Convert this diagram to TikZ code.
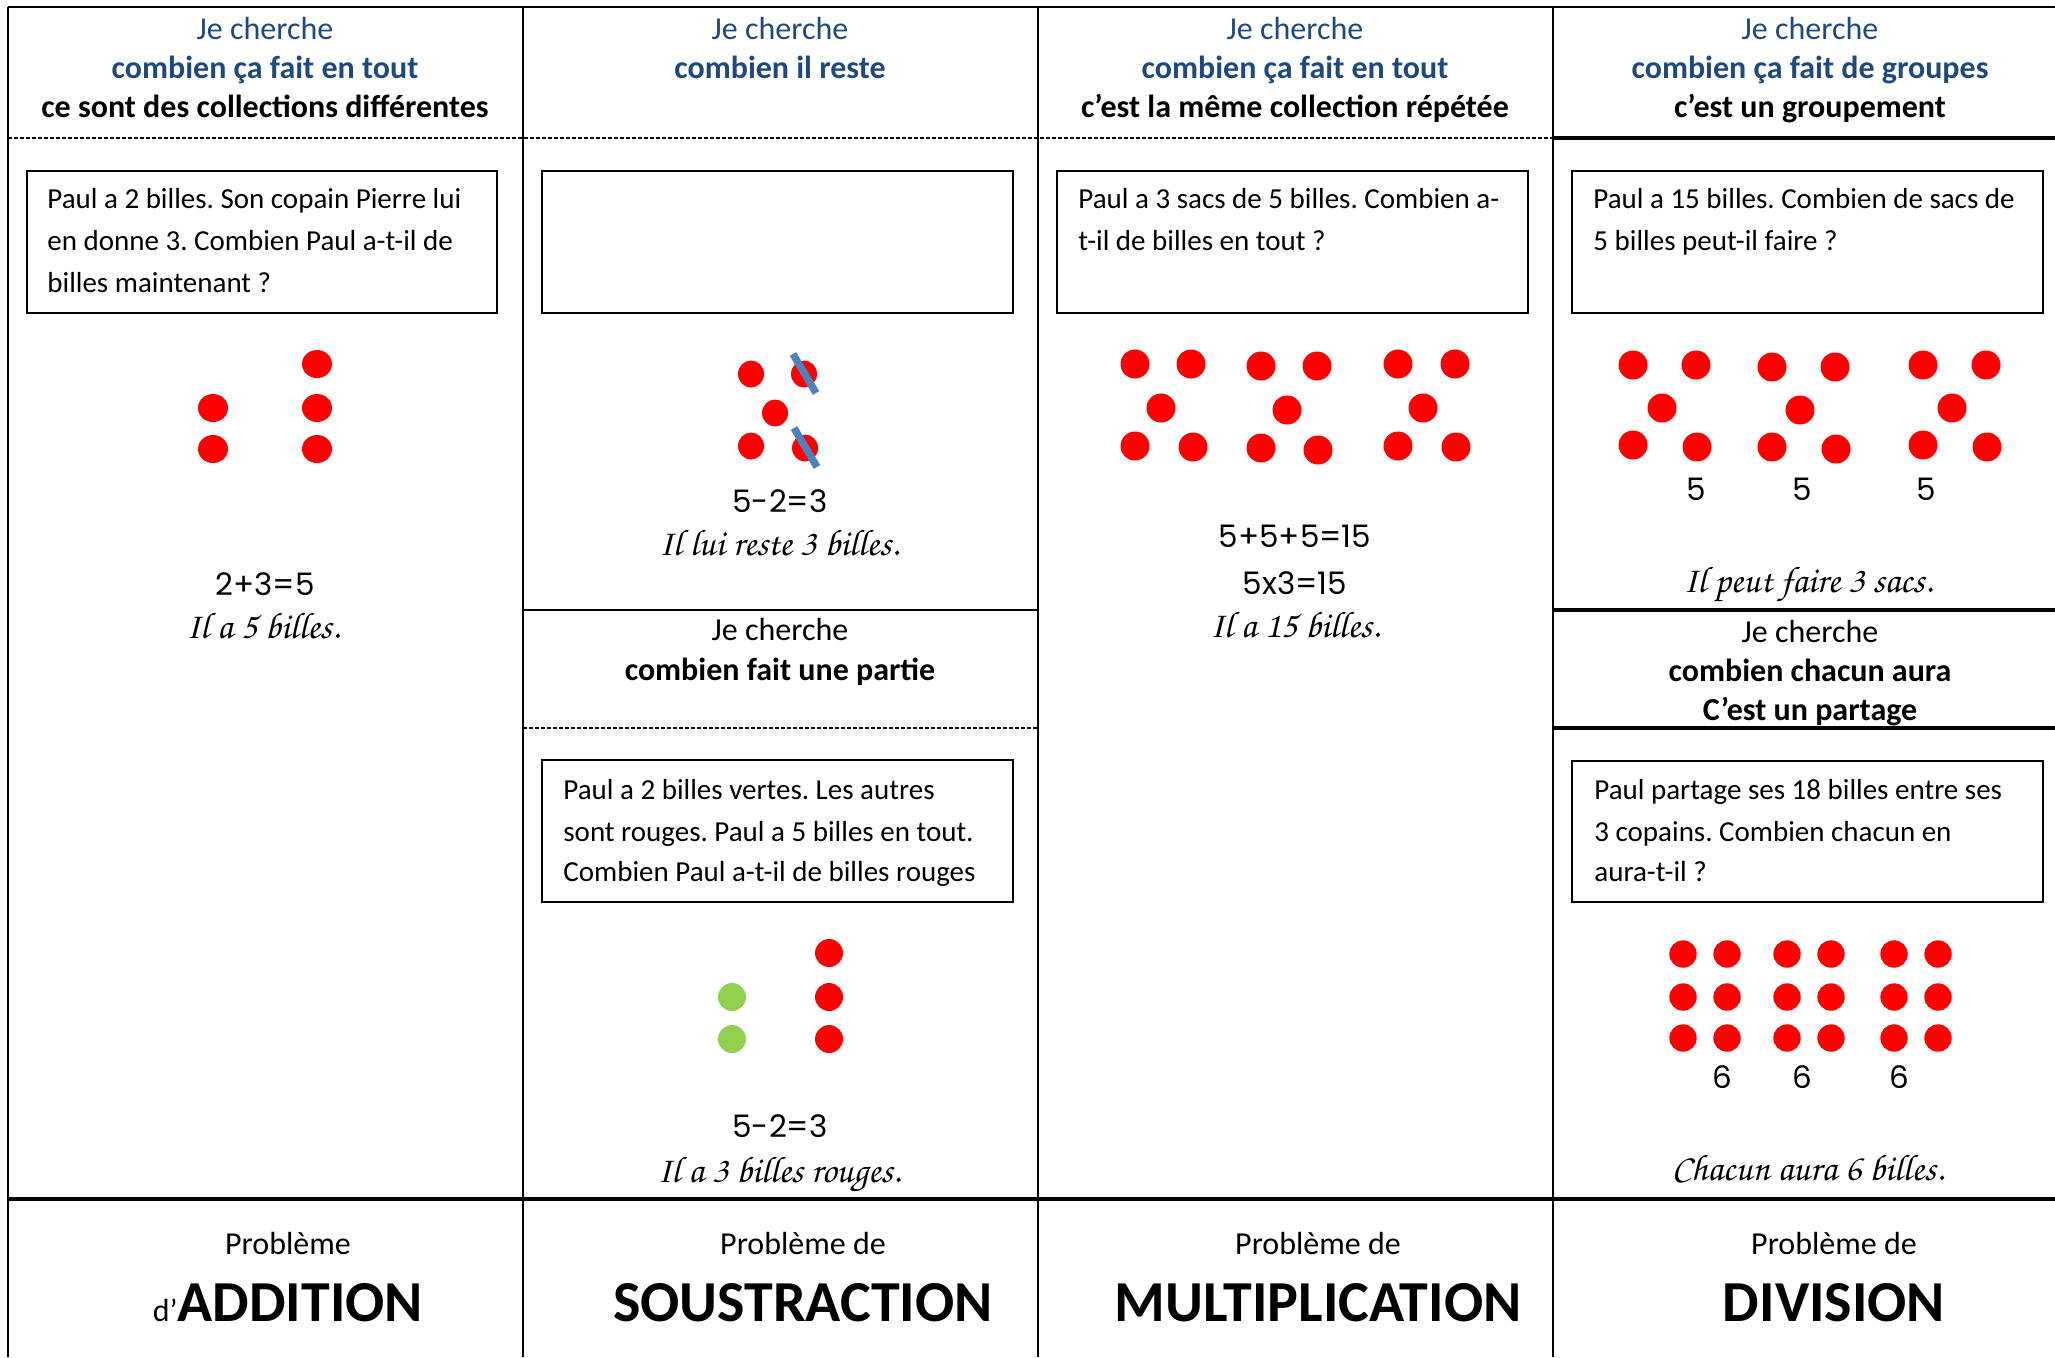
\documentclass[tikz,border=0pt]{standalone}
\usepackage{fontspec}
\setmainfont{Carlito}
\newfontfamily\eqf{Poppins}
\newfontfamily\cursf{TeX Gyre Chorus}
\definecolor{hblue}{RGB}{31,73,125}
\definecolor{dotred}{RGB}{255,0,0}
\definecolor{dotgreen}{RGB}{146,208,80}
\definecolor{strike}{RGB}{79,129,189}
\frenchspacing
\begin{document}
\begin{tikzpicture}[x=0.5pt,y=-0.5pt,
  rule/.style={line width=1pt,black},
  thickrule/.style={line width=1.6pt,black},
  dashrule/.style={line width=0.8pt,black,dash pattern=on 2pt off 1pt},
  qbox/.style={line width=1pt,black},
  hdblue/.style={font=\fontsize{16}{19}\selectfont,text=hblue,anchor=base,inner sep=0},
  hdblueb/.style={font=\fontsize{16}{19}\selectfont\bfseries,text=hblue,anchor=base,inner sep=0},
  hd/.style={font=\fontsize{16}{19}\selectfont,anchor=base,inner sep=0},
  hdb/.style={font=\fontsize{16}{19}\selectfont\bfseries,anchor=base,inner sep=0},
  qtext/.style={font=\fontsize{14.5}{17}\selectfont,anchor=base west,inner sep=0},
  eq/.style={font=\eqf\fontsize{15.5}{18}\selectfont,anchor=base,inner sep=0},
  cur/.style={font=\cursf\fontsize{18.5}{22}\selectfont,anchor=base,inner sep=0},
  big/.style={font=\fontsize{29}{34}\selectfont\bfseries,anchor=base,inner sep=0},
  rd/.style={fill=dotred},
  gr/.style={fill=dotgreen},
  st/.style={draw=strike,line width=3.7pt}
]
\useasboundingbox (0,0) rectangle (2055,1357);
% ---------- grid ----------
\draw[rule] (8,7) -- (2055,7);
\draw[rule] (8,7) -- (8,1357);
\draw[rule] (523,7) -- (523,1357);
\draw[rule] (1038,7) -- (1038,1357);
\draw[rule] (1553,7) -- (1553,1357);
\draw[dashrule] (8,138) -- (1553,138);
\draw[thickrule] (1553,138) -- (2055,138);
\draw[rule] (523,610) -- (1038,610);
\draw[dashrule] (523,728) -- (1038,728);
\draw[thickrule] (1553,610) -- (2055,610);
\draw[thickrule] (1553,728) -- (2055,728);
\draw[line width=1.8pt] (8,1199) -- (2055,1199);
% ---------- boxes ----------
\draw[qbox] (27,171) rectangle (497,313);
\draw[qbox] (542,171) rectangle (1013,313);
\draw[qbox] (1057,171) rectangle (1528,313);
\draw[qbox] (1572,171) rectangle (2043,313);
\draw[qbox] (542,760) rectangle (1013,902);
\draw[qbox] (1572,761) rectangle (2043,902);
% ---------- headers ----------
\node[hdblue]  (h1a) at (265,39)  {Je cherche};
\node[hdblueb] (h1b) at (265,78)  {combien ça fait en tout};
\node[hdb]     (h1c) at (265,117) {ce sont des collections différentes};
\node[hdblue]  (h2a) at (780,39)  {Je cherche};
\node[hdblueb] (h2b) at (780,78)  {combien il reste};
\node[hdblue]  (h3a) at (1295,39)  {Je cherche};
\node[hdblueb] (h3b) at (1295,78)  {combien ça fait en tout};
\node[hdb]     (h3c) at (1295,117) {c’est la même collection répétée};
\node[hdblue]  (h4a) at (1810,39)  {Je cherche};
\node[hdblueb] (h4b) at (1810,78)  {combien ça fait de groupes};
\node[hdb]     (h4c) at (1810,117) {c’est un groupement};
\node[hd]  (m2a) at (780,640) {Je cherche};
\node[hdb] (m2b) at (780,680) {combien fait une partie};
\node[hd]  (m4a) at (1810,642) {Je cherche};
\node[hdb] (m4b) at (1810,681) {combien chacun aura};
\node[hdb] (m4c) at (1810,720) {C’est un partage};
% ---------- problem texts ----------
\node[qtext] (q1a) at (47,208) {Paul a 2 billes. Son copain Pierre lui};
\node[qtext] (q1b) at (47,250) {en donne 3. Combien Paul a-t-il de};
\node[qtext] (q1c) at (47,292) {billes maintenant ?};
\node[qtext] (q3a) at (1078,208) {Paul a 3 sacs de 5 billes. Combien a-};
\node[qtext] (q3b) at (1078,250) {t-il de billes en tout ?};
\node[qtext] (q4a) at (1593,208) {Paul a 15 billes. Combien de sacs de};
\node[qtext] (q4b) at (1593,250) {5 billes peut-il faire ?};
\node[qtext] (q5a) at (563,799) {Paul a 2 billes vertes. Les autres};
\node[qtext] (q5b) at (563,841) {sont rouges. Paul a 5 billes en tout.};
\node[qtext] (q5c) at (563,881) {Combien Paul a-t-il de billes rouges};
\node[qtext] (q6a) at (1594,799) {Paul partage ses 18 billes entre ses};
\node[qtext] (q6b) at (1594,841) {3 copains. Combien chacun en};
\node[qtext] (q6c) at (1594,881) {aura-t-il ?};
% ---------- dots col 1 ----------
\foreach \p in {(213,408),(213,449),(317,364),(317,408),(317,449)}
  \fill[rd] \p circle[x radius=15,y radius=14];
% ---------- dots col 2 upper ----------
\foreach \p in {(751,374),(804,374),(775,413),(751,446),(805,448)}
  \fill[rd] \p circle[x radius=13,y radius=13.5];
\draw[st] (793,354) -- (816,393);
\draw[st] (794,428) -- (817,467);
% ---------- dots col 2 lower ----------
\foreach \p in {(732,997),(732,1039)}
  \fill[gr] \p circle[radius=14];
\foreach \p in {(829,953),(829,997),(829,1039)}
  \fill[rd] \p circle[radius=14];
% ---------- dots col 3 ----------
\foreach \p in {(1135,364),(1191,364),(1161,408),(1135,446),(1193,447),
                (1261,366),(1317,366),(1287,410),(1261,448),(1318,450),
                (1398,364),(1455,364),(1423,408),(1398,446),(1456,447)}
  \fill[rd] \p circle[radius=14.5];
% ---------- dots col 4 upper ----------
\foreach \p in {(1633,365),(1696,365),(1662,408),(1633,445),(1697,447),
                (1772,367),(1835,367),(1800,410),(1772,447),(1836,449),
                (1923,365),(1986,365),(1952,408),(1923,445),(1987,447)}
  \fill[rd] \p circle[radius=14.5];
% ---------- dots col 4 lower ----------
\foreach \xx in {1683,1727,1787,1831,1894,1938}
  \foreach \yy in {954,997,1038}
    \fill[rd] (\xx,\yy) circle[radius=13.7];
% ---------- equations ----------
\node[eq] (e1) at (265,595) {2+3=5};
\node[eq] (e2) at (780,512) {5-2=3};
\node[eq] (e5) at (780,1137) {5-2=3};
\node[eq] (e3a) at (1295,547) {5+5+5=15};
\node[eq] (e3b) at (1295,594) {5x3=15};
\node[eq] (n4a) at (1696,500) {5};
\node[eq] (n4b) at (1802,500) {5};
\node[eq] (n4c) at (1926,500) {5};
\node[eq] (n6a) at (1722,1088) {6};
\node[eq] (n6b) at (1802,1088) {6};
\node[eq] (n6c) at (1899,1088) {6};
% ---------- cursive answers ----------
\node[cur] (r1) at (263,638) {Il a 5 billes.};
\node[cur] (r2) at (779,555) {Il lui reste 3 billes.};
\node[cur] (r5) at (779,1182) {Il a 3 billes rouges.};
\node[cur] (r3) at (1295,637) {Il a 15 billes.};
\node[cur] (r4) at (1808,592) {Il peut faire 3 sacs.};
\node[cur] (r6) at (1808,1180) {Chacun aura 6 billes.};
% ---------- bottom titles ----------
\node[hd] (p1) at (288,1254) {Problème};
\node[hd] (p2) at (803,1254) {Problème de};
\node[hd] (p3) at (1318,1254) {Problème de};
\node[hd] (p4) at (1834,1254) {Problème de};
\node[big] (t1) at (288,1321) {{\fontsize{16}{19}\selectfont\mdseries d’}ADDITION};
\node[big] (t2) at (803,1321) {SOUSTRACTION};
\node[big] (t3) at (1318,1321) {MULTIPLICATION};
\node[big] (t4) at (1834,1321) {DIVISION};
\end{tikzpicture}
\end{document}
